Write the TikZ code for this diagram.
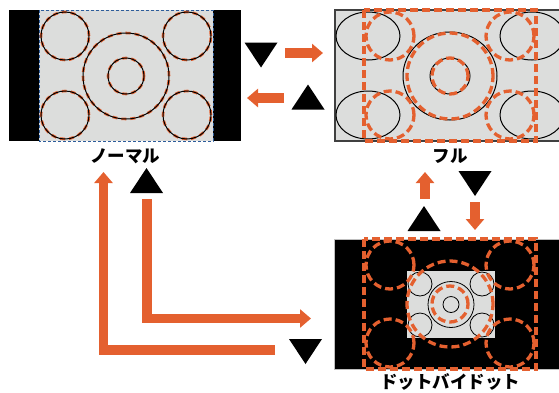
\documentclass[tikz,border=0pt]{standalone}
\usepackage{fontspec}
\newfontfamily\jpfont{Noto Sans CJK JP}
\usetikzlibrary{arrows.meta, calc}
\usepackage{xcolor}
\definecolor{laranja}{HTML}{E4602F}
\definecolor{cinza}{HTML}{DCDDDC}
\definecolor{azul}{HTML}{2D5C9A}

\begin{document}
\begin{tikzpicture}[x=1pt, y=-1pt,
    seta/.style={draw=laranja, line width=9.5pt, -{Triangle[width=18pt, length=11pt]}},
    contorno/.style={laranja, line width=3.3pt, dash pattern=on 8pt off 4pt},
    fino/.style={black, line width=1pt},
    rotulo/.style={font=\jpfont\bfseries\fontsize{17.5pt}{18pt}\selectfont}]
    \useasboundingbox (0,0) rectangle (559,392);
    \clip (0,0) rectangle (559,392);
    % Tela normal
    \fill[black] (9,10) rectangle (241,141);
    \fill[cinza] (39,10) rectangle (213,141);
    \draw[azul, line width=0.6pt, dash pattern=on 3pt off 2pt] (39,10) rectangle (213,141);
    \foreach \x/\y/\r in {65/36/24pt, 187/36/24pt, 65/115/24pt, 187/115/24pt, 126/76/43pt, 126/76/18pt} {
      \draw[laranja, line width=2.6pt, dash pattern=on 5pt off 4pt] (\x,\y) circle (\r);
      \draw[fino] (\x,\y) circle (\r);
    }
    % Tela cheia
    \fill[cinza] (335,10) rectangle (566,141);
    \draw[black!75, line width=1.5pt] (335,10) rectangle (566,141);
    \foreach \x/\y/\a/\b in {368/36/32pt/24pt, 532/36/32pt/24pt, 368/115/32pt/24pt, 532/115/32pt/24pt, 450/76/47pt/44pt, 450/76/20pt/18pt}
      \draw[fino] (\x,\y) ellipse [x radius=\a, y radius=\b];
    \draw[contorno] (364,10) rectangle (536,141);
    \foreach \x/\y/\r in {390/36/24pt, 510/36/24pt, 390/115/24pt, 510/115/24pt, 450/76/43pt, 450/76/18pt}
      \draw[contorno] (\x,\y) circle (\r);
    % Tela ponto a ponto
    \fill[black] (334,239) rectangle (566,369);
    \draw[gray!50, line width=0.8pt] (334,239) rectangle (566,369);
    \fill[cinza] (407,271) rectangle (495,338);
    \begin{scope}
      \clip (407,271) rectangle (495,338);
      \foreach \x/\y/\r in {420/284/12pt, 482/284/12pt, 420/325/12pt, 482/325/12pt, 451/304.5/23pt, 451/304.5/8pt}
        \draw[fino, line width=0.8pt] (\x,\y) circle (\r);
    \end{scope}
    \draw[contorno] (364,239) rectangle (536,369);
    \foreach \x/\y/\r in {390/265/24pt, 510/265/24pt, 390/343/24pt, 510/343/24pt, 450/304/43pt, 450/304/18pt}
      \draw[contorno] (\x,\y) circle (\r);
    % Rotulos
    \node[rotulo] (normal) at (125,156) {ノーマル};
    \node[rotulo] (cheia) at (450,156) {フル};
    \node[rotulo] (pontual) at (450,382) {ドットバイドット};
    % Setas laranja
    \coordinate (nc1) at (285,53);   \coordinate (nc2) at (323,53);
    \coordinate (cn1) at (284,98);   \coordinate (cn2) at (247,98);
    \coordinate (pc1) at (425,199);  \coordinate (pc2) at (425,172);
    \coordinate (cp1) at (475,202);  \coordinate (cp2) at (475,230);
    \coordinate (pn1) at (275,350);  \coordinate (pn2) at (103.5,172);
    \coordinate (np1) at (147,199);  \coordinate (np2) at (311,318.5);
    \draw[seta] (nc1) -- (nc2);
    \draw[seta] (cn1) -- (cn2);
    \draw[seta] (pc1) -- (pc2);
    \draw[seta] (cp1) -- (cp2);
    \draw[seta] (pn1) -| (pn2);
    \draw[seta] (np1) |- (np2);
    % Triangulos pretos
    \foreach \x/\y in {308/97, 146.5/180.5, 424/218.5}
      \fill[black] (\x-16.5,\y+12.5) -- (\x+16.5,\y+12.5) -- (\x,\y-12.5) -- cycle;
    \foreach \x/\y in {261/55, 305.5/351.5, 475/183.5}
      \fill[black] (\x-16.5,\y-12.5) -- (\x+16.5,\y-12.5) -- (\x,\y+12.5) -- cycle;
  \end{tikzpicture}
\end{document}
